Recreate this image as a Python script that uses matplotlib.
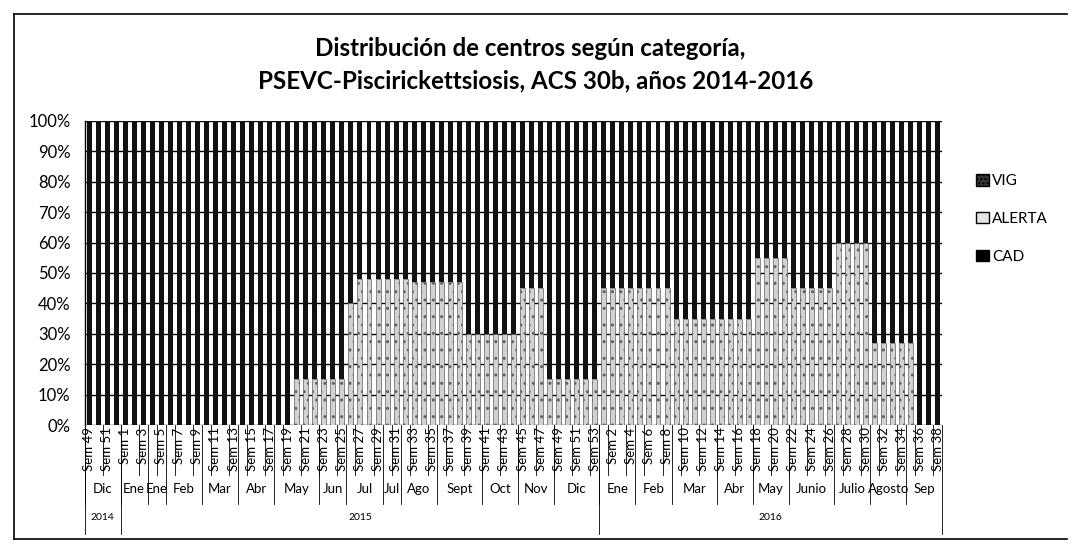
import numpy as np
import matplotlib.pyplot as plt
from matplotlib.patches import Patch
from matplotlib.lines import Line2D
from matplotlib.transforms import blended_transform_factory

plt.rcParams['font.family'] = ['Lato', 'DejaVu Sans']

# Semanas (Sem 49-52 2014, Sem 1-53 2015, Sem 1-38 2016)
semanas = [49, 50, 51, 52] + list(range(1, 54)) + list(range(1, 39))
etiquetas_sem = ['Sem %d' % s for s in semanas]

# Meses y cantidad de semanas de cada uno
meses = ['Dic', 'Ene', 'Ene', 'Feb', 'Mar', 'Abr', 'May', 'Jun', 'Jul', 'Jul', 'Ago', 'Sept',
         'Oct', 'Nov', 'Dic', 'Ene', 'Feb', 'Mar', 'Abr', 'May', 'Junio', 'Julio', 'Agosto', 'Sep']
n_sem_mes = [4, 3, 2, 4, 4, 4, 5, 3, 4, 2, 4, 5,
             4, 4, 5, 4, 4, 5, 4, 4, 5, 4, 4, 4]
anios = ['2014', '2015', '2016']
n_sem_anio = [4, 53, 38]

# Porcentaje de centros en ALERTA y CAD (estimado del grafico)
alerta = [0, 0, 0, 0, 0, 0, 0, 0, 0, 0,
          0, 0, 0, 0, 0, 0, 0, 0, 0, 0,
          0, 0, 0, 15, 15, 15, 15, 15, 15, 40,
          48, 48, 48, 48, 48, 48, 47, 47, 47, 47,
          47, 47, 30, 30, 30, 30, 30, 30, 45, 45,
          45, 15, 15, 15, 15, 15, 15, 45, 45, 45,
          45, 45, 45, 45, 45, 35, 35, 35, 35, 35,
          35, 35, 35, 35, 55, 55, 55, 55, 45, 45,
          45, 45, 45, 60, 60, 60, 60, 27, 27, 27,
          27, 27, 0, 0, 0]
cad = [0] * len(semanas)
alerta = np.array(alerta, dtype=float)
cad = np.array(cad, dtype=float)
vig = 100 - alerta - cad

fig = plt.figure(figsize=(10.78, 5.56), dpi=100)
ax = fig.add_axes([0.0784, 0.2356, 0.7959, 0.5468])

x = np.arange(len(semanas))
ax.bar(x, cad / 100, width=0.55, color='#000000', zorder=2)
ax.bar(x, alerta / 100, width=0.55, bottom=cad / 100, color='#d2d2d2',
       edgecolor='#606060', linewidth=0.5, hatch='..', zorder=2)
ax.bar(x, vig / 100, width=0.55, bottom=(cad + alerta) / 100, color='#111111', zorder=2)

ax.set_xlim(-0.5, len(semanas) - 0.5)
ax.set_ylim(0, 1)
ax.set_yticks(np.arange(0, 1.01, 0.1))
ax.set_yticklabels(['%d%%' % v for v in range(0, 101, 10)], fontsize=12)
ax.yaxis.grid(True, color='black', linewidth=1.0, zorder=1)
ax.set_axisbelow(True)
ax.tick_params(axis='y', length=0, pad=10)
ax.set_xticks([])
for lado in ['top', 'right', 'bottom']:
    ax.spines[lado].set_visible(False)
ax.spines['left'].set_linewidth(1.0)

# Etiquetas multinivel del eje x
tr = blended_transform_factory(ax.transData, ax.transAxes)
for i in range(0, len(semanas), 2):
    ax.text(i, -0.008, etiquetas_sem[i], rotation=90, ha='center', va='top',
            fontsize=9.5, transform=tr, clip_on=False)
for b in np.arange(-0.5, len(semanas), 2):
    ax.plot([b, b], [0, -0.165], color='black', lw=0.6, transform=tr, clip_on=False)

inicio = 0
for mes, n in zip(meses, n_sem_mes):
    ax.text(inicio + n / 2 - 0.5, -0.21, mes, ha='center', va='center',
            fontsize=9.5, transform=tr, clip_on=False)
    ax.plot([inicio - 0.5] * 2, [0, -0.26], color='black', lw=0.6, transform=tr, clip_on=False)
    inicio += n

inicio = 0
for anio, n in zip(anios, n_sem_anio):
    ax.text(inicio + n / 2 - 0.5, -0.305, anio, ha='center', va='center',
            fontsize=7.5, transform=tr, clip_on=False)
    ax.plot([inicio - 0.5] * 2, [0, -0.36], color='black', lw=0.6, transform=tr, clip_on=False)
    inicio += n
ax.plot([inicio - 0.5] * 2, [0, -0.36], color='black', lw=0.6, transform=tr, clip_on=False)

# Titulo
fig.text(0.492, 0.913, 'Distribución de centros según categoría,', ha='center', va='center',
         fontsize=17.4, fontweight='bold')
fig.text(0.497, 0.855, 'PSEVC-Piscirickettsiosis, ACS 30b, años 2014-2016', ha='center',
         va='center', fontsize=17.4, fontweight='bold')

# Leyenda
elementos = [Patch(facecolor='#333333', edgecolor='black', hatch='....', label='VIG'),
             Patch(facecolor='#e4e4e4', edgecolor='black', label='ALERTA'),
             Patch(facecolor='#000000', edgecolor='black', label='CAD')]
fig.legend(handles=elementos, loc='upper left', bbox_to_anchor=(0.893, 0.712), frameon=False,
           fontsize=11, handlelength=0.8, handleheight=0.8, handletextpad=0.25,
           labelspacing=1.55)

# Marco del grafico
fig.add_artist(Line2D([0.013, 0.013], [0.03, 0.975], color='black', lw=1.2))
fig.add_artist(Line2D([0.013, 0.99], [0.975, 0.975], color='black', lw=1.2))
fig.add_artist(Line2D([0.013, 0.99], [0.03, 0.03], color='black', lw=1.2))

fig.savefig('out.png', dpi=100)
